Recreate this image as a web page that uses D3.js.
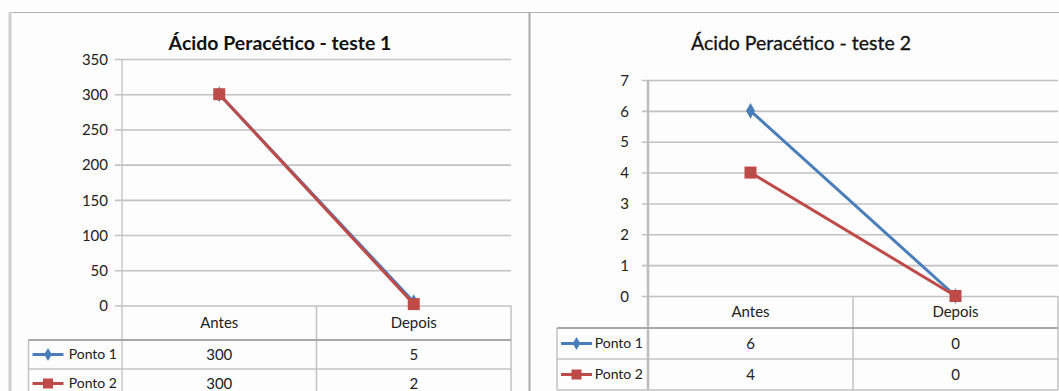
<!DOCTYPE html>
<html>
<head>
<meta charset="utf-8">
<script src="https://cdn.jsdelivr.net/npm/d3@7/dist/d3.min.js"></script>
<style>
  html, body { margin: 0; padding: 0; background: #fdfdfd; }
  svg { display: block; font-family: Lato, "Open Sans", sans-serif; }
</style>
</head>
<body>
<svg id="chart" width="1059" height="391"></svg>
<script>
// Categories, series and axis ticks for the two tests
const categories = ["Antes", "Depois"];
const seriesNames = ["Ponto 1", "Ponto 2"];
const teste1Ponto1 = [300, 5];
const teste1Ponto2 = [300, 2];
const teste2Ponto1 = [6, 0];
const teste2Ponto2 = [4, 0];
const teste1Ticks = [0, 50, 100, 150, 200, 250, 300, 350];
const teste2Ticks = [0, 1, 2, 3, 4, 5, 6, 7];
const titles = ["Ácido Peracético - teste 1", "Ácido Peracético - teste 2"];

const BLUE = "#4a7ebb";
const RED = "#be4b48";
const GRID = "#c2c2c2";
const TEXT = "#222";
const FS = 15;

const svg = d3.select("#chart");

// Outer frame: top rule, left edge and divider between the two panels
svg.append("line").attr("x1", 10).attr("x2", 1059).attr("y1", 12.5).attr("y2", 12.5)
  .attr("stroke", "#b4b4b4").attr("stroke-width", 1.2);
svg.append("line").attr("x1", 10).attr("x2", 10).attr("y1", 12).attr("y2", 391)
  .attr("stroke", "#cfcfcf").attr("stroke-width", 3);
svg.append("line").attr("x1", 529.5).attr("x2", 529.5).attr("y1", 12).attr("y2", 391)
  .attr("stroke", "#a9a9a9").attr("stroke-width", 2);

function drawChart(cfg) {
  const g = svg.append("g");
  const { left, right, top, bottom, catBottom, rowH, tableLeft } = cfg;

  const y = d3.scaleLinear().domain([0, d3.max(cfg.ticks)]).range([bottom, top]);
  const x = d3.scaleBand().domain(categories).range([left, right]);
  const cx = d => x(d) + x.bandwidth() / 2;

  // Title
  const title = g.append("text")
    .attr("x", cfg.titleX).attr("y", 50)
    .attr("text-anchor", "middle")
    .attr("font-size", cfg.titleSize)
    .attr("font-weight", cfg.titleWeight)
    .attr("fill", "#111")
    .text(cfg.title);
  if (cfg.titleStroke) title.attr("stroke", "#111").attr("stroke-width", cfg.titleStroke);

  // Value axis with gridlines
  const axis = d3.axisLeft(y)
    .tickValues(cfg.ticks)
    .tickFormat(d3.format("d"))
    .tickSize(-(right - left + cfg.tickLen))
    .tickPadding(cfg.tickPad);
  const ag = g.append("g")
    .attr("transform", `translate(${left - cfg.tickLen},0)`)
    .call(axis);
  ag.select(".domain").remove();
  ag.selectAll(".tick line").attr("stroke", GRID).attr("stroke-width", 1.6);
  ag.selectAll(".tick text").attr("fill", TEXT).attr("font-size", FS)
    .attr("font-family", "Lato, sans-serif").attr("dy", "0.35em");

  // Data table below the plot
  const rows = cfg.series.length;
  const tableBottom = catBottom + rows * rowH;
  const tl = g.append("g").attr("stroke", GRID).attr("stroke-width", 1.5);
  // vertical rules
  tl.append("line").attr("x1", left).attr("x2", left).attr("y1", top).attr("y2", tableBottom)
    .attr("stroke", cfg.axisColor).attr("stroke-width", cfg.axisWidth);
  categories.forEach(c => {
    const xe = x(c) + x.bandwidth();
    tl.append("line").attr("x1", xe).attr("x2", xe).attr("y1", bottom).attr("y2", tableBottom);
  });
  tl.append("line").attr("x1", tableLeft).attr("x2", tableLeft).attr("y1", catBottom).attr("y2", tableBottom);
  // horizontal rules
  tl.append("line").attr("x1", tableLeft).attr("x2", right).attr("y1", catBottom).attr("y2", catBottom)
    .attr("stroke", "#a8a8a8").attr("stroke-width", 2);
  for (let r = 1; r <= rows; r++) {
    const yy = catBottom + r * rowH;
    tl.append("line").attr("x1", tableLeft).attr("x2", right).attr("y1", yy).attr("y2", yy);
  }

  // Category labels
  g.selectAll(".cat").data(categories).join("text")
    .attr("x", d => cx(d)).attr("y", (bottom + catBottom) / 2)
    .attr("dy", "0.35em").attr("text-anchor", "middle")
    .attr("font-size", FS).attr("fill", TEXT).text(d => d);

  // Row labels, legend keys and values
  cfg.series.forEach((s, r) => {
    const ym = catBottom + r * rowH + rowH / 2;
    const color = r === 0 ? BLUE : RED;
    const kx1 = tableLeft + 4, kx2 = tableLeft + 35, km = (kx1 + kx2) / 2;
    g.append("line").attr("x1", kx1).attr("x2", kx2).attr("y1", ym).attr("y2", ym)
      .attr("stroke", color).attr("stroke-width", 3);
    if (r === 0) {
      g.append("path").attr("d", d3.symbol(d3.symbolDiamond, 50)())
        .attr("transform", `translate(${km},${ym})`).attr("fill", color);
    } else {
      g.append("rect").attr("x", km - 5).attr("y", ym - 5).attr("width", 10).attr("height", 10)
        .attr("fill", color);
    }
    g.append("text").attr("x", left - 5).attr("y", ym).attr("dy", "0.35em")
      .attr("text-anchor", "end").attr("font-size", 14).attr("fill", TEXT)
      .text(seriesNames[r]);
    g.selectAll(null).data(s).join("text")
      .attr("x", (d, i) => cx(categories[i])).attr("y", ym).attr("dy", "0.35em")
      .attr("text-anchor", "middle").attr("font-size", FS).attr("fill", TEXT)
      .text(d => d);
  });

  // Lines and markers (Ponto 2 drawn over Ponto 1)
  const line = d3.line().x((d, i) => cx(categories[i])).y(d => y(d));
  cfg.series.forEach((s, r) => {
    const color = r === 0 ? BLUE : RED;
    g.append("path").datum(s).attr("d", line)
      .attr("fill", "none").attr("stroke", color).attr("stroke-width", 3);
    if (r === 0) {
      g.selectAll(null).data(s).join("path")
        .attr("d", d3.symbol(d3.symbolDiamond, 70)())
        .attr("transform", (d, i) => `translate(${cx(categories[i])},${y(d)})`)
        .attr("fill", color);
    } else {
      g.selectAll(null).data(s).join("rect")
        .attr("x", (d, i) => cx(categories[i]) - 6).attr("y", d => y(d) - 6)
        .attr("width", 12).attr("height", 12).attr("fill", color);
    }
  });
}

drawChart({
  title: titles[0], titleX: 280, titleSize: 19.5, titleWeight: "bold",
  ticks: teste1Ticks, series: [teste1Ponto1, teste1Ponto2],
  left: 122, right: 511, top: 59, bottom: 305.5,
  catBottom: 340, rowH: 29, tableLeft: 28.5,
  tickLen: 7, tickPad: 7, axisColor: "#c8c8c8", axisWidth: 1.5
});

drawChart({
  title: titles[1], titleX: 801, titleSize: 19.5, titleWeight: "normal", titleStroke: 0.3,
  ticks: teste2Ticks, series: [teste2Ponto1, teste2Ponto2],
  left: 648, right: 1058, top: 80, bottom: 296,
  catBottom: 328, rowH: 31, tableLeft: 557,
  tickLen: 6, tickPad: 13, axisColor: "#bdbdbd", axisWidth: 2.5
});
</script>
</body>
</html>
